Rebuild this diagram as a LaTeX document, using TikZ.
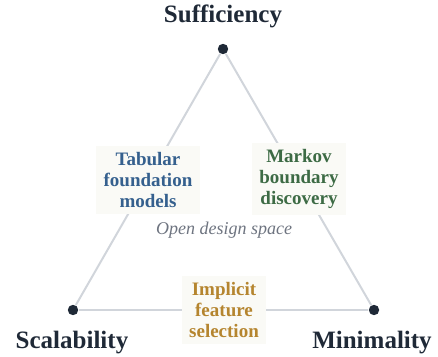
\documentclass[tikz,border=0pt]{standalone}
\usepackage{fontspec}
\setmainfont{Liberation Serif}
\usepackage{tikz}
\usetikzlibrary{arrows}
\definecolor{ink}{RGB}{31,41,55}
\definecolor{edgegray}{RGB}{209,213,219}
\definecolor{boxfill}{RGB}{250,250,246}
\definecolor{tfblue}{RGB}{53,96,142}
\definecolor{mbgreen}{RGB}{61,107,69}
\definecolor{ifgold}{RGB}{181,133,47}
\definecolor{spacegray}{RGB}{110,116,128}

\begin{document}
\begin{tikzpicture}[x=0.5pt,y=-0.5pt,semithick]
 \tikzstyle{vertex}=[circle,fill=ink,inner sep=0pt,minimum size=5.2pt]
 \tikzstyle{corner}=[font=\fontsize{12.5}{14}\selectfont\bfseries,text=ink]
 \tikzstyle{method}=[fill=boxfill,align=center,inner xsep=3.8pt,inner ysep=3pt,font=\fontsize{9.5}{10.5}\selectfont\bfseries]
 \tikzstyle{side}=[draw=edgegray,line width=1pt]

   \useasboundingbox (0,0) rectangle (438,357);

   \node[vertex] (suf) at (223,49) {};
   \node[vertex] (sca) at (73,310) {};
   \node[vertex] (min) at (374,310) {};

   \path[side]
   (suf) edge (sca)
   (suf) edge (min)
   (sca) edge (min);

   \node[corner] (suflabel) at (223,16) {Sufficiency};
   \node[corner] (scalabel) at (72,343) {Scalability};
   \node[corner] (minlabel) at (372,343) {Minimality};

   \node[method,text=tfblue] (tabular) at (148,180) {Tabular\\foundation\\models};
   \node[method,text=mbgreen] (markov) at (299,179) {Markov\\boundary\\discovery};
   \node[method,text=ifgold] (implicit) at (224,310) {Implicit\\feature\\selection};

   \node[text=spacegray,font=\fontsize{9}{11}\selectfont\itshape] (open) at (224,230) {Open design space};

\end{tikzpicture}
\end{document}
